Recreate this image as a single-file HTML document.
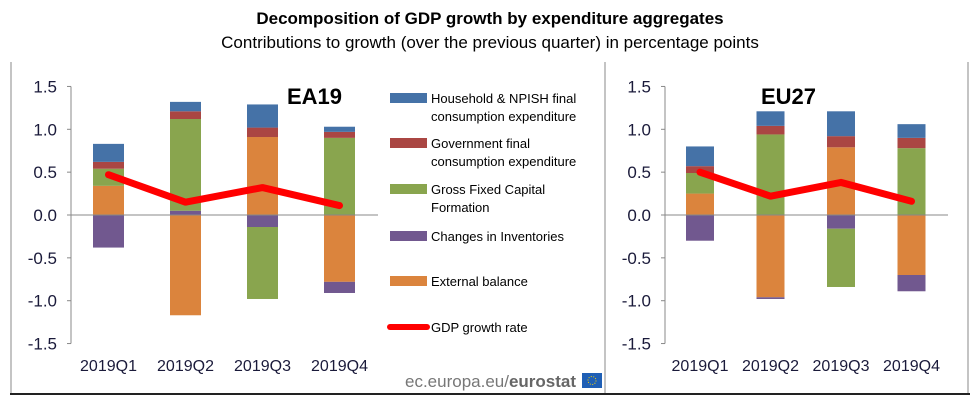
<!DOCTYPE html>
<html><head><meta charset="utf-8"><style>
body{margin:0;background:#fff;}
svg{display:block;font-family:"Liberation Sans",sans-serif;}
</style></head><body>
<svg id="c" width="980" height="403" viewBox="0 0 980 403">
<text x="490" y="24" text-anchor="middle" font-size="17" font-weight="bold" fill="#000">Decomposition of GDP growth by expenditure aggregates</text>
<text x="490" y="48" text-anchor="middle" font-size="17" fill="#000">Contributions to growth (over the previous quarter) in percentage points</text>
<line x1="11" y1="62" x2="11" y2="393" stroke="#888"/>
<line x1="605" y1="62" x2="605" y2="393" stroke="#888"/>
<line x1="968" y1="62" x2="968" y2="393" stroke="#888"/>
<line x1="10" y1="394" x2="970" y2="394" stroke="#222" stroke-width="2"/>
<g id="ea"></g>
<g id="eu"></g>
<g id="lg"></g>
<text x="405" y="387" font-size="17" fill="#777">ec.europa.eu/<tspan font-weight="bold" fill="#666">eurostat</tspan></text>
<rect x="582" y="373" width="20" height="15" fill="#1f5fb5"/>
<circle cx="592" cy="380.5" r="4" fill="none" stroke="#ffd700" stroke-width="1" stroke-dasharray="1 1.5"/>
</svg>
<script>
const categories=["2019Q1","2019Q2","2019Q3","2019Q4"];
const tickLabels=["1.5","1.0","0.5","0.0","-0.5","-1.0","-1.5"];
const tickValues=[1.5,1,0.5,0,-0.5,-1,-1.5];
// EA19
const eaHousehold=[0.21,0.11,0.27,0.06];
const eaGovernment=[0.08,0.09,0.11,0.07];
const eaGFCF=[0.20,1.07,-0.84,0.90];
const eaInventories=[-0.38,0.05,-0.14,-0.13];
const eaExternal=[0.34,-1.17,0.91,-0.78];
const eaGDP=[0.47,0.15,0.32,0.11];
// EU27
const euHousehold=[0.23,0.17,0.29,0.16];
const euGovernment=[0.08,0.10,0.13,0.12];
const euGFCF=[0.24,0.94,-0.68,0.78];
const euInventories=[-0.30,-0.02,-0.16,-0.19];
const euExternal=[0.25,-0.96,0.79,-0.70];
const euGDP=[0.50,0.22,0.38,0.16];

const C={hh:"#4572a7",gv:"#aa4643",gf:"#89a54e",inv:"#71588f",ext:"#db843d"};
const NS="http://www.w3.org/2000/svg";
function mk(p,t,a){const e=document.createElementNS(NS,t);for(const k in a)e.setAttribute(k,a[k]);p.appendChild(e);return e;}
function y(v){return 215-v*85.7;}
function drawPanel(gid,axisX,endX,x0,step,bw,label,labelX,d,gdp,prefix){
  const g=document.getElementById(gid);
  const ax=mk(g,"line",{x1:axisX,y1:y(1.5),x2:axisX,y2:y(-1.5),stroke:"#888"});
  
  
  tickValues.forEach((v,i)=>{
    const tk=mk(g,"line",{x1:axisX-4,y1:y(v),x2:axisX,y2:y(v),stroke:"#888"});
    
    
    const t=mk(g,"text",{x:axisX-14,y:y(v)+6,"text-anchor":"end","font-size":"17",fill:"#1a1a3a"});
    t.textContent=tickLabels[i];
    
    
  });
  const posOrder=["inv","ext","gf","gv","hh"];
  const negOrder=["ext","inv","gf","gv","hh"];
  categories.forEach((c,i)=>{
    const x=x0+i*step;let pos=0,neg=0;
    posOrder.forEach(k=>{
      const v=d[k][i];if(v<0)return;
      const r=mk(g,"rect",{x:x,y:y(pos+v),width:bw,height:y(pos)-y(pos+v),fill:C[k]});
      pos+=v;
      
      
    });
    negOrder.forEach(k=>{
      const v=d[k][i];if(v>=0)return;
      const r=mk(g,"rect",{x:x,y:y(neg),width:bw,height:y(neg+v)-y(neg),fill:C[k]});
      neg+=v;
      
      
    });
    const t=mk(g,"text",{x:x+bw/2,y:371,"text-anchor":"middle","font-size":"16",fill:"#1a1a3a"});
    t.textContent=c;
    
    
  });
  const z=mk(g,"line",{x1:axisX,y1:y(0),x2:endX,y2:y(0),stroke:"#888"});
  
  
  const pts=gdp.map((v,i)=>(x0+i*step+bw/2)+","+y(v)).join(" ");
  const pl=mk(g,"polyline",{points:pts,fill:"none",stroke:"#ff0000","stroke-width":"7","stroke-linecap":"round","stroke-linejoin":"round"});
  
  
  const l=mk(g,"text",{x:labelX,y:104,"font-size":"22","font-weight":"bold",fill:"#000"});
  l.textContent=label;
  
  
}
drawPanel("ea",71,378,93,77,31,"EA19",287,{hh:eaHousehold,gv:eaGovernment,gf:eaGFCF,inv:eaInventories,ext:eaExternal},eaGDP,"ea19");
drawPanel("eu",665,948,686,70.5,28,"EU27",761,{hh:euHousehold,gv:euGovernment,gf:euGFCF,inv:euInventories,ext:euExternal},euGDP,"eu27");

const lg=document.getElementById("lg");
const lgLines=[["Household & NPISH final","consumption expenditure"],["Government final","consumption expenditure"],["Gross Fixed Capital","Formation"],["Changes in Inventories"],["External balance"]];
const lgCols=[C.hh,C.gv,C.gf,C.inv,C.ext];
const lgY=[98,143,189,236,281];
lgLines.forEach((ls,i)=>{
  const r=mk(lg,"rect",{x:390,y:lgY[i]-5,width:37,height:10,fill:lgCols[i]});
  
  
  ls.forEach((s,j)=>{
    const t=mk(lg,"text",{x:431,y:lgY[i]+5+j*18,"font-size":"13",fill:"#000"});
    t.textContent=s;
    
    
  });
});
const ll=mk(lg,"line",{x1:390,y1:327,x2:427,y2:327,stroke:"#ff0000","stroke-width":"6","stroke-linecap":"round"});


const lt=mk(lg,"text",{x:431,y:332,"font-size":"13",fill:"#000"});
lt.textContent="GDP growth rate";


</script>
</body></html>
